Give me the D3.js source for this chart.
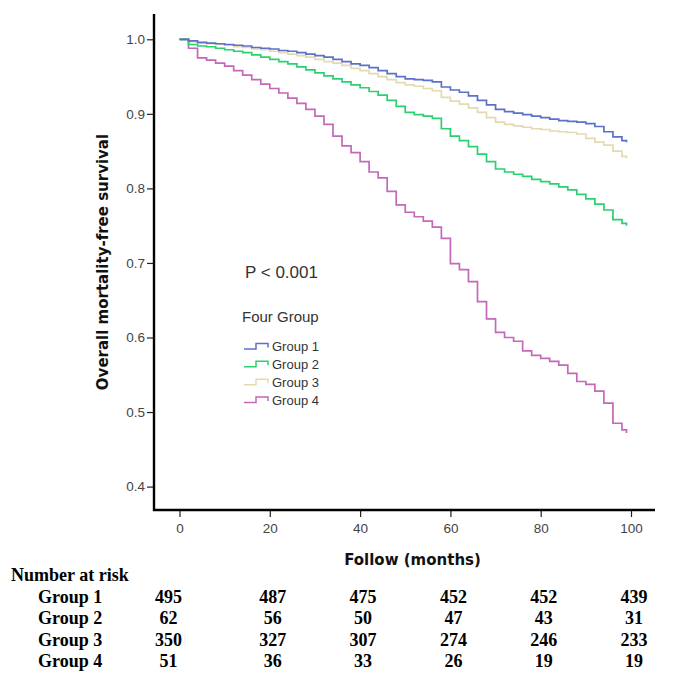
<!DOCTYPE html>
<html>
<head>
<meta charset="utf-8">
<script src="https://cdn.jsdelivr.net/npm/d3@7"></script>
<style>
  html, body { margin: 0; padding: 0; background: #fff; }
  svg { display: block; }
</style>
</head>
<body>
<svg id="chart" width="673" height="686"></svg>
<script>
// ---------------- DATA ----------------
const months = [0,2,4,6,8,10,12,14,16,18,20,22,24,26,28,30,32,34,36,38,40,42,44,46,48,50,52,54,56,58,60,62,64,66,68,70,72,74,76,78,80,82,84,86,88,90,92,94,96,98,99];

const group1 = [1.000,0.998,0.996,0.995,0.994,0.993,0.992,0.991,0.989,0.988,0.987,0.985,0.984,0.982,0.980,0.978,0.976,0.973,0.970,0.967,0.965,0.962,0.958,0.954,0.950,0.947,0.946,0.945,0.943,0.936,0.932,0.929,0.924,0.918,0.912,0.906,0.903,0.901,0.899,0.897,0.895,0.893,0.891,0.890,0.889,0.887,0.883,0.876,0.869,0.864,0.862];
const group2 = [1.000,0.993,0.991,0.990,0.988,0.986,0.984,0.982,0.979,0.976,0.973,0.970,0.967,0.963,0.959,0.955,0.951,0.947,0.943,0.939,0.935,0.930,0.925,0.918,0.910,0.902,0.899,0.897,0.894,0.880,0.870,0.864,0.856,0.846,0.836,0.826,0.822,0.819,0.816,0.812,0.809,0.806,0.802,0.798,0.792,0.786,0.779,0.771,0.758,0.753,0.750];
const group3 = [1.000,0.997,0.995,0.994,0.993,0.992,0.990,0.989,0.987,0.986,0.984,0.982,0.980,0.978,0.976,0.973,0.970,0.968,0.965,0.961,0.958,0.954,0.950,0.946,0.942,0.939,0.937,0.934,0.931,0.922,0.917,0.913,0.908,0.902,0.895,0.889,0.886,0.884,0.882,0.880,0.879,0.877,0.876,0.875,0.873,0.867,0.862,0.858,0.850,0.843,0.840];
const group4 = [1.000,0.988,0.975,0.972,0.968,0.964,0.958,0.952,0.946,0.940,0.934,0.928,0.921,0.914,0.906,0.897,0.886,0.870,0.857,0.848,0.836,0.822,0.814,0.796,0.778,0.768,0.762,0.756,0.748,0.733,0.699,0.691,0.675,0.648,0.625,0.607,0.600,0.595,0.582,0.576,0.572,0.568,0.563,0.552,0.541,0.537,0.528,0.512,0.485,0.476,0.472];

const groupNames = ["Group 1","Group 2","Group 3","Group 4"];
const groupColors = ["#5b72c8","#2bd070","#e4dab2","#c468b8"];

const xTicks = [0,20,40,60,80,100];
const yTicks = [0.4,0.5,0.6,0.7,0.8,0.9,1.0];

const riskTimes = [0,20,40,60,80,100];
const risk1 = [495,487,475,452,452,439];
const risk2 = [62,56,50,47,43,31];
const risk3 = [350,327,307,274,246,233];
const risk4 = [51,36,33,26,19,19];

const pText = "P < 0.001";
const legendTitle = "Four Group";
const xTitle = "Follow (months)";
const yTitle = "Overall mortality-free survival";
const riskTitle = "Number at risk";

// ---------------- CHART ----------------
const svg = d3.select("#chart");
svg.append("rect").attr("width",673).attr("height",686).attr("fill","#fff");

const x = d3.scaleLinear().domain([0,100]).range([179.5,631]);
const y = d3.scaleLinear().domain([0.4,1.0]).range([486.6,39.3]);

const axisX0 = 154, axisY0 = 510;

// y axis
const gy = svg.append("g").attr("transform",`translate(${axisX0},0)`)
  .call(d3.axisLeft(y).tickValues(yTicks).tickFormat(d3.format(".1f")).tickSize(7).tickPadding(2).tickSizeOuter(0));
gy.select(".domain").remove();
gy.selectAll(".tick line").attr("stroke","#222").attr("stroke-width",1.2);
gy.selectAll(".tick text").attr("font-family","'Liberation Sans', Arial, sans-serif").attr("font-size",13.5).attr("fill","#444");

// x axis
const gx = svg.append("g").attr("transform",`translate(0,${axisY0})`)
  .call(d3.axisBottom(x).tickValues(xTicks).tickFormat(d3.format("d")).tickSize(7).tickPadding(6).tickSizeOuter(0));
gx.select(".domain").remove();
gx.selectAll(".tick line").attr("stroke","#222").attr("stroke-width",1.2);
gx.selectAll(".tick text").attr("font-family","'Liberation Sans', Arial, sans-serif").attr("font-size",13.5).attr("fill","#444");

// axis lines
svg.append("line").attr("x1",axisX0).attr("x2",axisX0).attr("y1",14).attr("y2",axisY0+1)
  .attr("stroke","#000").attr("stroke-width",2.4);
svg.append("line").attr("x1",axisX0-1).attr("x2",655).attr("y1",axisY0).attr("y2",axisY0)
  .attr("stroke","#000").attr("stroke-width",2.4);

// axis titles
svg.append("text").attr("x",(axisX0+655)/2+8).attr("y",560).attr("dy","0.35em")
  .attr("text-anchor","middle").attr("font-family","'DejaVu Sans', Verdana, sans-serif")
  .attr("font-weight","bold").attr("font-size",15).attr("fill","#111").text(xTitle);
svg.append("text").attr("transform","translate(103,262) rotate(-90)").attr("dy","0.35em")
  .attr("text-anchor","middle").attr("font-family","'DejaVu Sans', Verdana, sans-serif")
  .attr("font-weight","bold").attr("font-size",15).attr("fill","#111").text(yTitle);

// curves
const series = [group1, group2, group3, group4];
const line = d3.line().curve(d3.curveStepAfter).x(d => x(d[0])).y(d => y(d[1]));
[2,3,1,0].forEach(i => {
  const pts = months.map((m,j) => [m, series[i][j]]);
  svg.append("path").attr("d", line(pts)).attr("fill","none")
    .attr("stroke", groupColors[i]).attr("stroke-width",1.7);
});

// P value & legend
svg.append("text").attr("x",245).attr("y",272).attr("dy","0.35em")
  .attr("font-family","'Liberation Sans', Arial, sans-serif").attr("font-size",17).attr("fill","#333").text(pText);
svg.append("text").attr("x",242).attr("y",317).attr("dy","0.35em")
  .attr("font-family","'Liberation Sans', Arial, sans-serif").attr("font-size",15).attr("fill","#333").text(legendTitle);

const legY = d3.scalePoint().domain(groupNames).range([346.5,400]);
groupNames.forEach((g,i) => {
  const cy = legY(g);
  svg.append("path").attr("d",`M244,${cy+2.5}H256V${cy-3}H268V${cy+1}`)
    .attr("fill","none").attr("stroke",groupColors[i]).attr("stroke-width",1.5);
  svg.append("text").attr("x",272).attr("y",cy).attr("dy","0.35em")
    .attr("font-family","'Liberation Sans', Arial, sans-serif").attr("font-size",13).attr("fill","#333").text(g);
});

// number at risk table
const serif = "'Liberation Serif', 'Times New Roman', serif";
const tfs = 18;
svg.append("text").attr("x",11).attr("y",575).attr("dy","0.35em")
  .attr("font-family",serif).attr("font-weight","bold").attr("font-size",tfs).attr("fill","#000").text(riskTitle);
const risks = [risk1, risk2, risk3, risk4];
const rowY = d3.scalePoint().domain(groupNames).range([596.5,661]);
groupNames.forEach((g,i) => {
  const ry = rowY(g);
  svg.append("text").attr("x",38).attr("y",ry).attr("dy","0.35em")
    .attr("font-family",serif).attr("font-weight","bold").attr("font-size",tfs).attr("fill","#000").text(g);
  risks[i].forEach((v,j) => {
    svg.append("text").attr("x", x(riskTimes[j]) + (j===0 ? -11 : 3)).attr("y",ry).attr("dy","0.35em")
      .attr("text-anchor","middle").attr("font-family",serif).attr("font-weight","bold")
      .attr("font-size",tfs).attr("fill","#000").text(v);
  });
});
</script>
</body>
</html>
